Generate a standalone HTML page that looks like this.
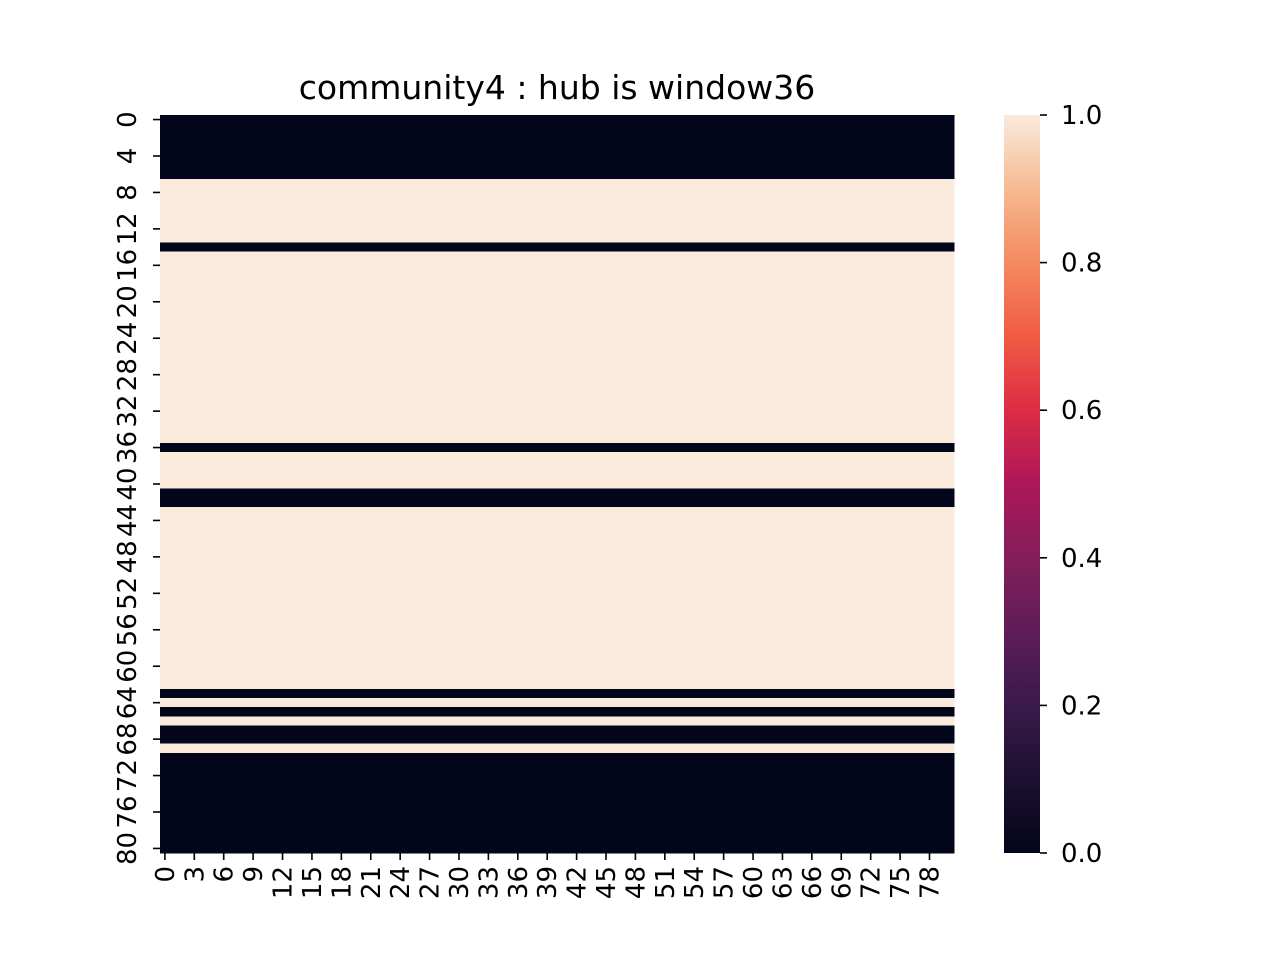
<!DOCTYPE html>
<html><head><meta charset="utf-8"><style>
body{margin:0;background:#fff;}
svg text{font-family:"DejaVu Sans","Liberation Sans",sans-serif;fill:#000;}
</style></head><body>
<svg id="chart" width="1280" height="960" viewBox="0 0 1280 960" xmlns="http://www.w3.org/2000/svg">
<defs><linearGradient id="rocket" x1="0" y1="1" x2="0" y2="0">
<stop offset="0" stop-color="#03051a"/><stop offset="0.1" stop-color="#1c1030"/><stop offset="0.2" stop-color="#3a1a4a"/><stop offset="0.3" stop-color="#5f1c58"/><stop offset="0.4" stop-color="#841e5a"/><stop offset="0.5" stop-color="#ad1759"/><stop offset="0.6" stop-color="#dd2c45"/><stop offset="0.7" stop-color="#f05b43"/><stop offset="0.8" stop-color="#f48a5f"/><stop offset="0.9" stop-color="#f6b991"/><stop offset="1" stop-color="#faebdd"/>
</linearGradient></defs>
<text x="557" y="99" font-size="33" text-anchor="middle">community4 : hub is window36</text>
<g id="cells"></g><g id="axes"></g>
<rect x="1004" y="115" width="36" height="738" fill="url(#rocket)"/>
<g id="cbar"></g>
</svg>
<script>
const rowValues=[0,0,0,0,0,0,0,1,1,1,1,1,1,1,0,1,1,1,1,1,1,1,1,1,1,1,1,1,1,1,1,1,1,1,1,1,0,1,1,1,1,0,0,1,1,1,1,1,1,1,1,1,1,1,1,1,1,1,1,1,1,1,1,0,1,0,1,0,0,1,0,0,0,0,0,0,0,0,0,0,0];
const nCols=81;
const cbTicks=[0,0.2,0.4,0.6,0.8,1.0];
const NS="http://www.w3.org/2000/svg";
const X0=160,X1=954,Y0=115,Y1=853;
const nRows=rowValues.length;
const cw=(X1-X0)/nCols,rh=(Y1-Y0)/nRows;
const xs=c=>X0+c*cw, ys=r=>Y0+r*rh;
const col=v=>v>=0.5?"#faebdd":"#03051a";
const cells=document.getElementById('cells'),axes=document.getElementById('axes'),cb=document.getElementById('cbar');
function mk(t,a,p){const e=document.createElementNS(NS,t);for(const k in a)e.setAttribute(k,a[k]);p.appendChild(e);return e;}
rowValues.forEach((v,r)=>{for(let c=0;c<nCols;c++){
const e=mk('rect',{x:xs(c),y:ys(r),width:cw+0.6,height:rh+0.6,fill:col(v),'shape-rendering':'crispEdges'},cells);

}});
for(let r=0;r<nRows;r+=4){const y=ys(r+0.5);
const l=mk('line',{x1:X0-7,x2:X0,y1:y,y2:y,stroke:'#000','stroke-width':1.6},axes);

const t=mk('text',{x:0,y:0,'font-size':26,'text-anchor':'middle',transform:`translate(136,${y}) rotate(-90)`},axes);
t.textContent=r;}
for(let c=0;c<nCols;c+=3){const x=xs(c+0.5);
const l=mk('line',{x1:x,x2:x,y1:Y1,y2:Y1+7,stroke:'#000','stroke-width':1.6},axes);

const t=mk('text',{x:0,y:0,'font-size':26,'text-anchor':'end',transform:`translate(${x+9},866) rotate(-90)`},axes);
t.textContent=c;}
cbTicks.forEach(v=>{const y=Y1-v*(Y1-Y0);
const l=mk('line',{x1:1040,x2:1047,y1:y,y2:y,stroke:'#000','stroke-width':1.6},cb);

const t=mk('text',{x:1061,y:y+9,'font-size':26},cb);
t.textContent=v.toFixed(1);});
</script>
</body></html>
